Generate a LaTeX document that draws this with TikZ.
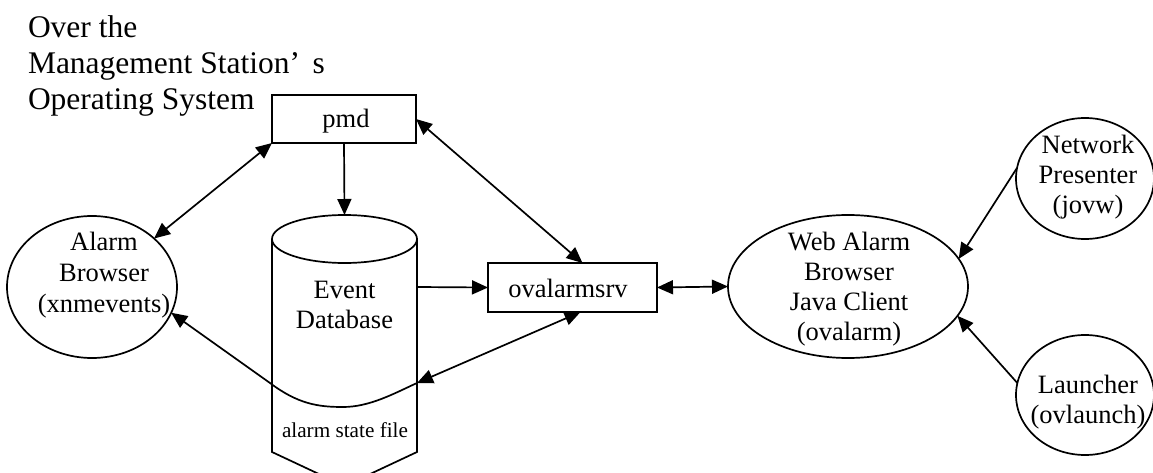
\documentclass[tikz,border=0pt]{standalone}
\usepackage{fontspec}
\setmainfont{Liberation Serif}
\usetikzlibrary{shapes.geometric,arrows.meta}
\begin{document}
\begin{tikzpicture}[x=1pt,y=-1pt, line width=1.7pt,
  every node/.style={inner sep=0pt, outer sep=0pt},
  box/.style={draw, rectangle},
  oval/.style={draw, ellipse},
  lbl/.style={align=center, font=\fontsize{26.5}{30}\selectfont, anchor=base},
  tip/.tip={Triangle[length=16pt,width=14pt]},
  arr/.style={-tip},
  darr/.style={tip-tip}]
\useasboundingbox (0,0) rectangle (1153,473);

% title
\node[anchor=base west, align=left, font=\fontsize{31.5}{36}\selectfont] (title) at (28,110)
  {Over the\\Management Station’\hspace{0.4em}s\\Operating System};

% pmd
\node[box, minimum width=144pt, minimum height=48pt] (pmd) at (344,119) {};
\node[lbl] (pmdt) at (346,128) {pmd};

% ovalarmsrv
\node[box, minimum width=169pt, minimum height=49pt] (ov) at (572.5,287.5) {};
\node[lbl] (ovt) at (568,297) {ovalarmsrv};

% Alarm Browser
\node[oval, minimum width=170pt, minimum height=142pt] (ab) at (92,287) {};
\node[lbl, font=\fontsize{26.5}{31}\selectfont] (abt) at (104,312) {Alarm\\Browser\\(xnmevents)};

% Web Alarm Browser
\node[oval, minimum width=240pt, minimum height=143pt] (web) at (848,286.5) {};
\node[lbl] (webt) at (849,340) {Web Alarm\\Browser\\Java Client\\(ovalarm)};

% Network Presenter
\node[oval, minimum width=138pt, minimum height=121pt] (np) at (1085,178.5) {};
\node[lbl, font=\fontsize{26.5}{29.5}\selectfont] (npt) at (1088,213) {Network\\Presenter\\(jovw)};

% Launcher
\node[oval, minimum width=138pt, minimum height=120pt] (la) at (1085,395) {};
\node[lbl] (lat) at (1088,423) {Launcher\\(ovlaunch)};

% Event database cylinder
\draw (272,239) -- (272,452) -- (344.5,486) -- (417,452) -- (417,239);
\draw (344.5,239) ellipse [x radius=72.5, y radius=24];
\coordinate (dbtop) at (344.5,215);
\coordinate (dbin) at (417,287);
\coordinate (dbwr) at (417,383);
\coordinate (dbwl) at (270,383);
\node[lbl] (dbt) at (344.5,328) {Event\\Database};
\node[lbl, font=\fontsize{21.2}{25}\selectfont] (asf) at (345,437) {alarm state file};

% connectors
\draw[darr] (ab.38) -- (pmd.south west);
\draw[arr] (pmd.south) -- (dbtop);
\draw[darr] (pmd.east) -- ([xshift=10pt]ov.north);
\draw[arr] (dbin) -- (ov.west);
\draw[darr] (ov.east) -- (web.west);
\draw[darr] ([xshift=8pt]ov.south) -- (dbwr);
\draw[arr] (dbwr) .. controls (395,393) and (370,407) .. (343,407)
   .. controls (318,407) and (298,404) .. (dbwl) -- (ab.-18);
\draw[arr] (np.171) -- (web.14);
\draw[arr] (la.170) -- (web.-15);
\end{tikzpicture}
\end{document}
